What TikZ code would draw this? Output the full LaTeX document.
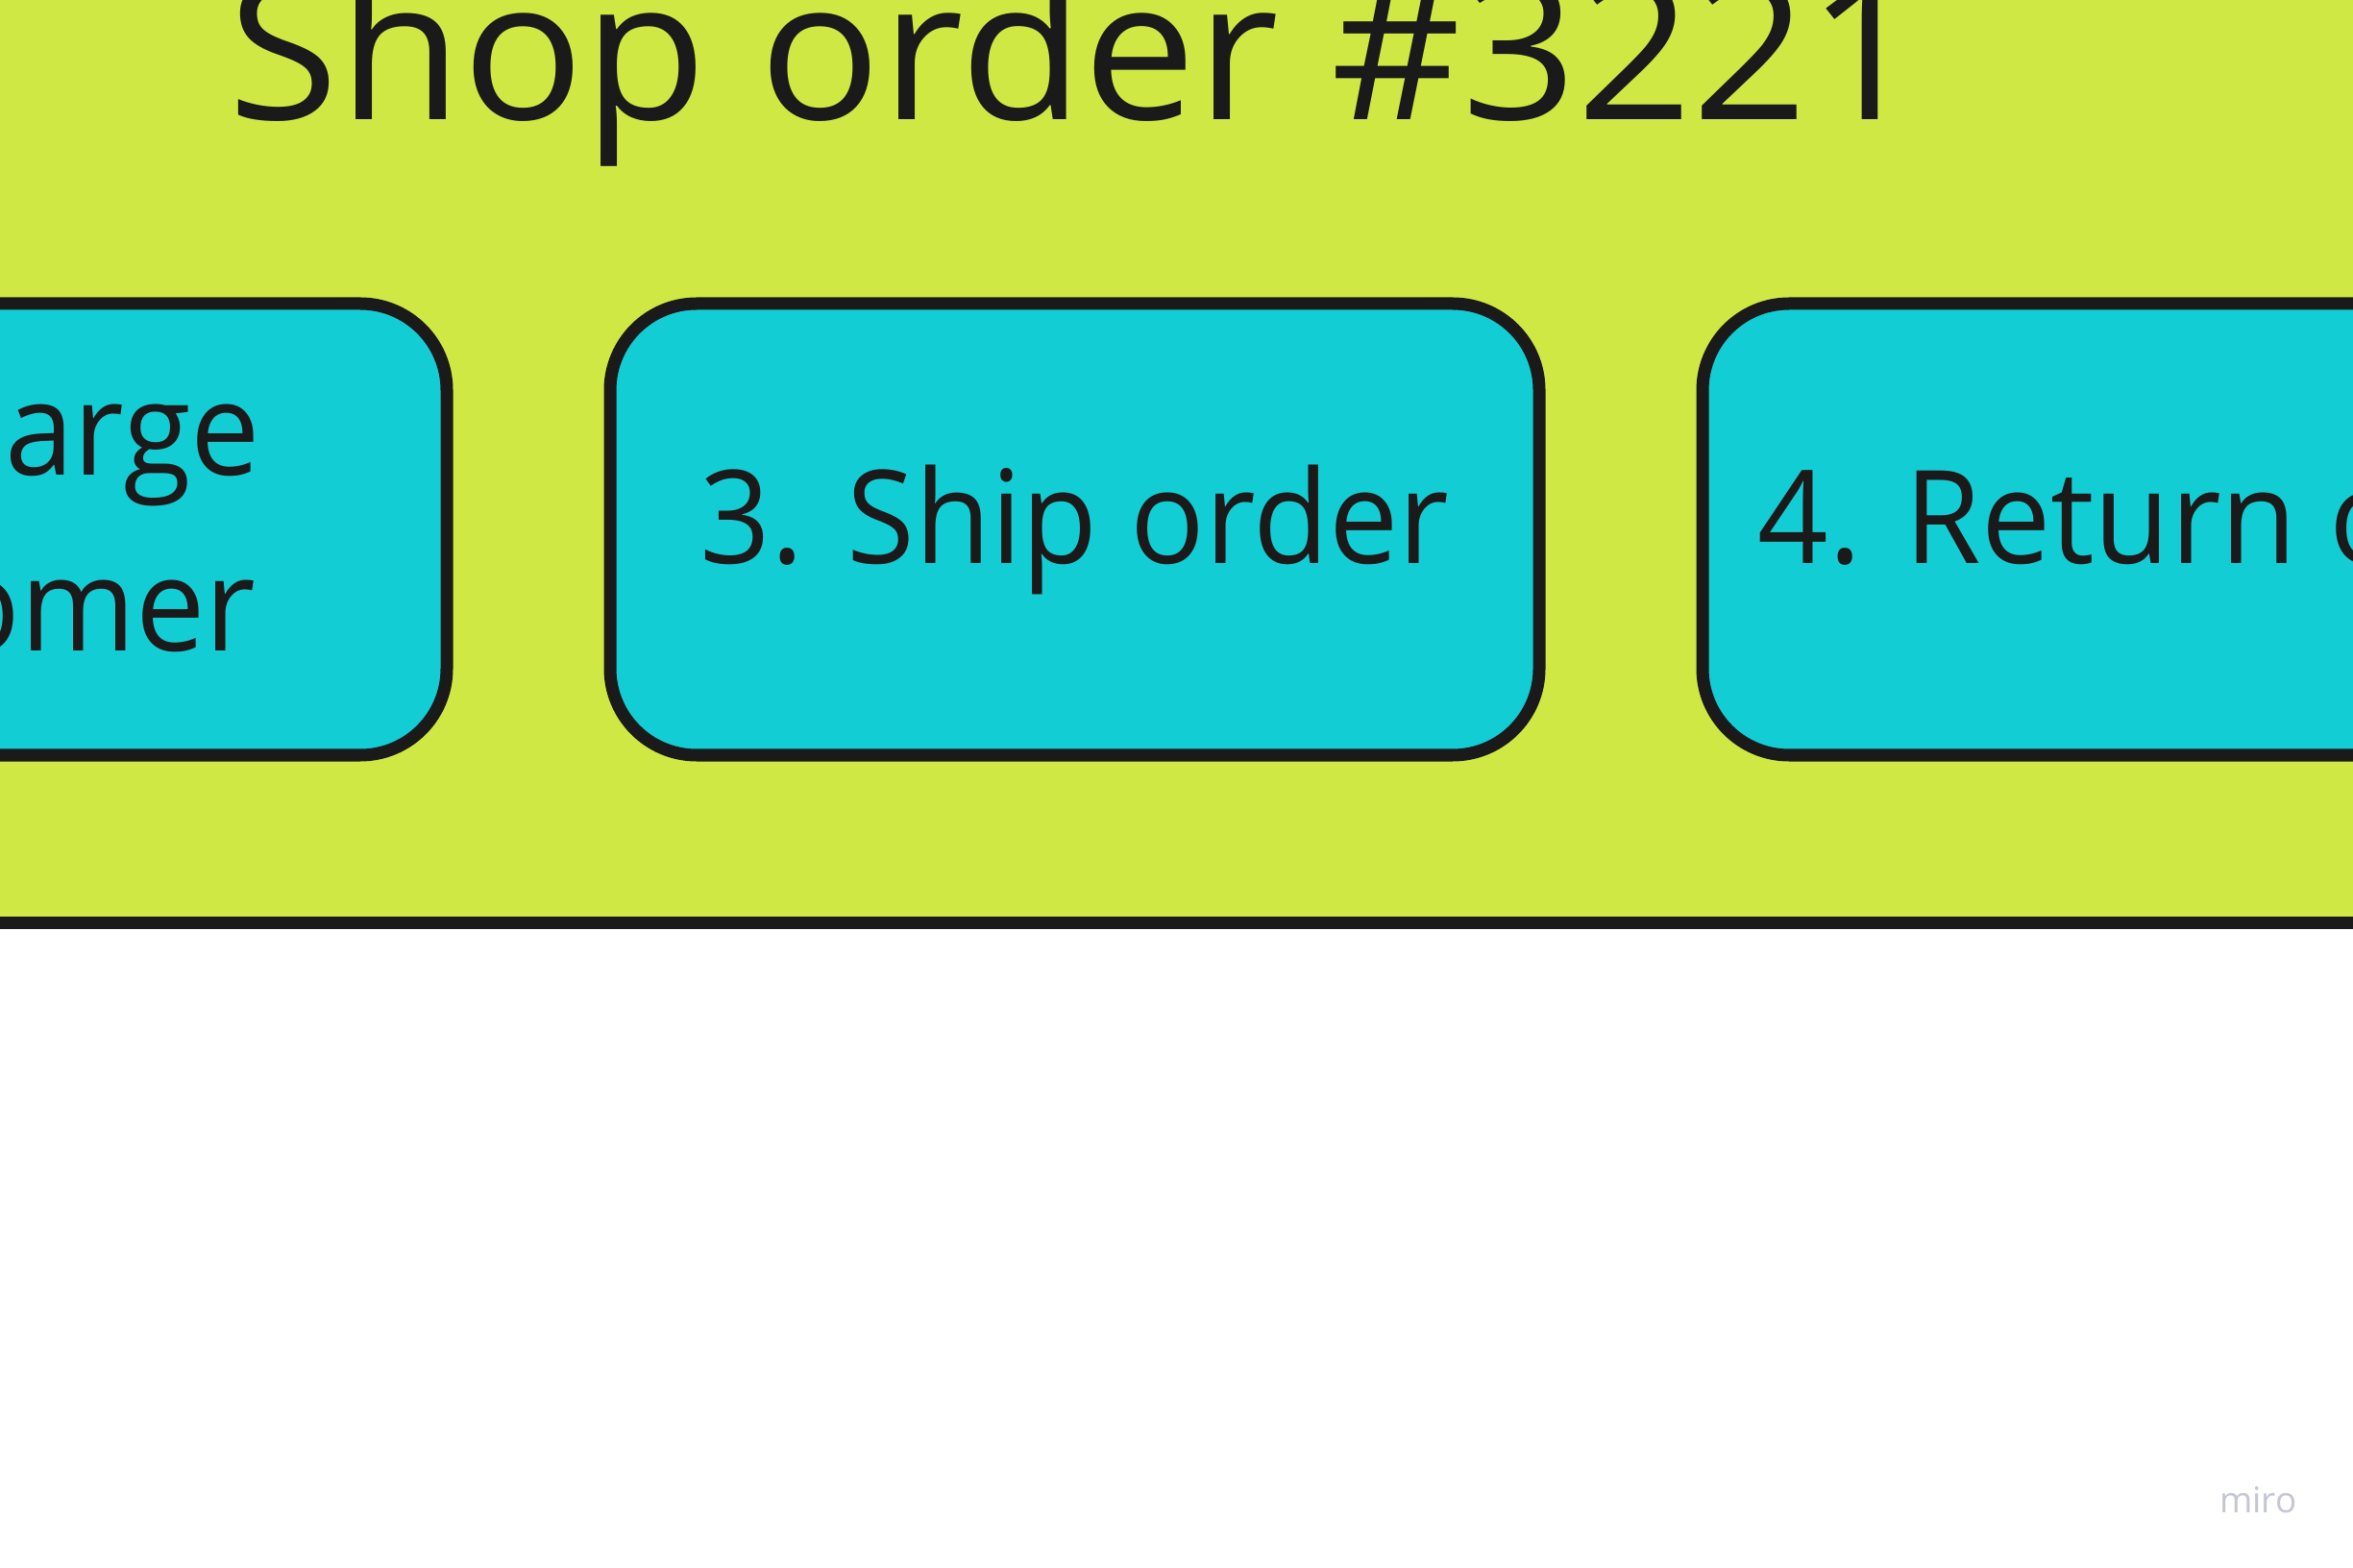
\documentclass[tikz,border=0pt]{standalone}
\usepackage{fontspec}
\setmainfont{Open Sans}
\newfontfamily\titlefont[FakeStretch=1.033]{Open Sans}
\newfontfamily\stepfont[FakeStretch=0.955]{Open Sans}
\usepackage{xcolor}
\usepackage{tikz}
\usetikzlibrary{positioning}
\definecolor{FrameLime}{HTML}{CFE843}
\definecolor{StepCyan}{HTML}{13CDD4}
\definecolor{EdgeBlack}{HTML}{1A1A1A}
\definecolor{MiroGrey}{HTML}{C5C6D3}

\begin{document}
\begin{tikzpicture}[
  orderframe/.style={draw=EdgeBlack, fill=FrameLime, line width=3.7pt},
  stepbox/.style={draw=EdgeBlack, fill=StepCyan, rounded corners=0.9cm, line width=3.7pt, minimum width=9.67cm, minimum height=4.70cm, inner sep=0pt, outer sep=0pt, align=center, text depth=9.2pt, text=EdgeBlack, font=\stepfont\fontsize{38.4}{52.2}\selectfont},
  titletext/.style={inner sep=0pt, outer sep=0pt, text=EdgeBlack, font=\titlefont\fontsize{57.8}{78.6}\selectfont},
  watermark/.style={inner sep=0pt, text=MiroGrey, font=\fontsize{10.5}{13}\selectfont}
]
\useasboundingbox (0,0) rectangle (24.49,-16.32);
\fill[white] (0,0) rectangle (24.49,-16.32);
\clip (0,0) rectangle (24.49,-16.32);
\draw[orderframe] (-1,1) rectangle (26,-9.60);
\node[titletext, anchor=base west] (title) at (2.37,-1.25) {Shop order \#3221};
\node[stepbox] (ship) at (11.185,-5.51) {3. Ship order};
\node[stepbox, left=1.7cm of ship] (charge) {2. Charge\\customer};
\node[stepbox, right=1.7cm of ship, minimum width=10.42cm] (return) {4. Return order};
\node[watermark, anchor=base east] (miro) at (23.91,-15.74) {miro};
\end{tikzpicture}
\end{document}
